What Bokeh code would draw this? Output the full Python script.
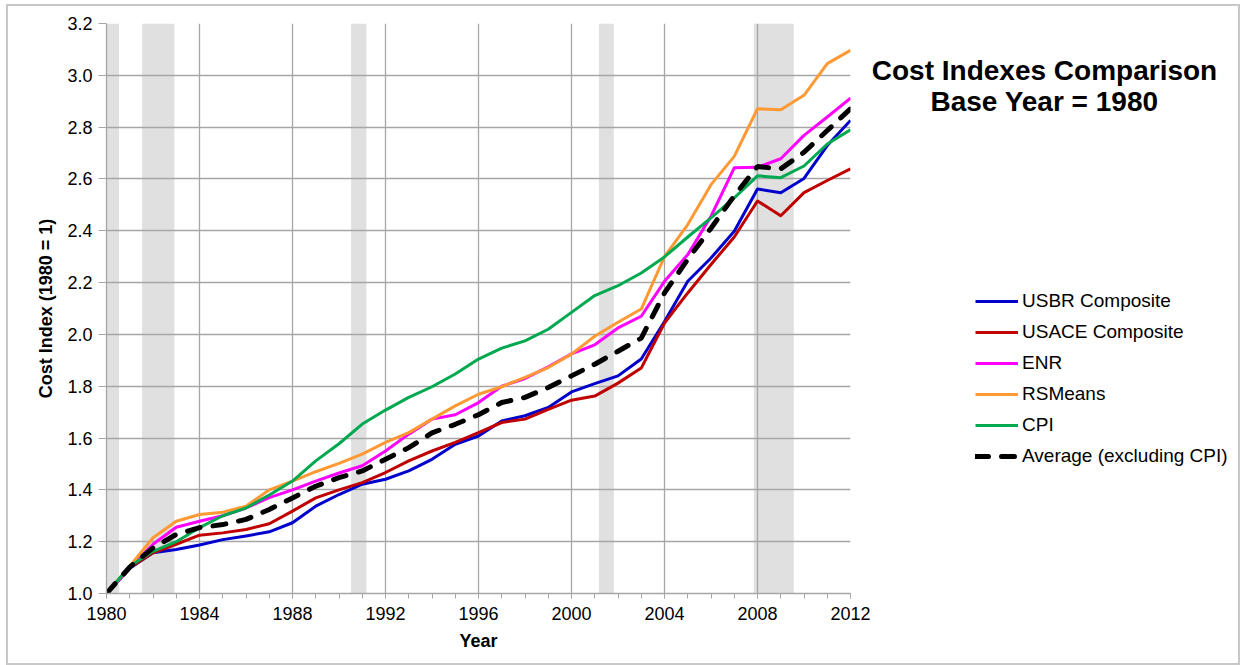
from bokeh.plotting import figure
from bokeh.layouts import row
from bokeh.models import (Legend, LegendItem, SingleIntervalTicker, NumeralTickFormatter,
                          Range1d, BoxAnnotation)
from bokeh.core.properties import value
from bokeh.embed import file_html
from bokeh.resources import INLINE

years = list(range(1980, 2013))

usbr = [1.000, 1.097, 1.157, 1.170, 1.187, 1.208, 1.222, 1.238, 1.273, 1.337,
        1.382, 1.422, 1.441, 1.473, 1.518, 1.576, 1.608, 1.666, 1.686, 1.718,
        1.778, 1.810, 1.840, 1.905, 2.050, 2.205, 2.295, 2.398, 2.561, 2.547,
        2.602, 2.729, 2.826]
usace = [1.000, 1.099, 1.157, 1.190, 1.225, 1.234, 1.247, 1.269, 1.318, 1.369,
         1.400, 1.428, 1.467, 1.512, 1.550, 1.583, 1.621, 1.660, 1.673, 1.711,
         1.746, 1.762, 1.812, 1.870, 2.044, 2.160, 2.270, 2.376, 2.515, 2.458,
         2.547, 2.594, 2.639]
enr = [1.000, 1.100, 1.190, 1.256, 1.279, 1.300, 1.330, 1.370, 1.400, 1.434,
       1.465, 1.493, 1.550, 1.615, 1.673, 1.690, 1.737, 1.800, 1.830, 1.875,
       1.925, 1.960, 2.025, 2.070, 2.205, 2.308, 2.456, 2.643, 2.645, 2.678,
       2.768, 2.839, 2.912]
rsmeans = [1.000, 1.105, 1.215, 1.279, 1.305, 1.314, 1.337, 1.400, 1.434, 1.470,
           1.502, 1.538, 1.583, 1.621, 1.673, 1.724, 1.769, 1.798, 1.834, 1.872,
           1.924, 1.993, 2.047, 2.098, 2.300, 2.424, 2.578, 2.687, 2.871, 2.867,
           2.923, 3.045, 3.097]
cpi = [1.000, 1.105, 1.163, 1.200, 1.254, 1.300, 1.330, 1.380, 1.434, 1.512,
       1.578, 1.654, 1.708, 1.757, 1.798, 1.847, 1.905, 1.947, 1.975, 2.020,
       2.085, 2.150, 2.188, 2.237, 2.299, 2.376, 2.450, 2.527, 2.612, 2.605,
       2.650, 2.735, 2.790]
average = [1.000, 1.102, 1.176, 1.228, 1.254, 1.266, 1.286, 1.324, 1.369, 1.414,
           1.447, 1.473, 1.518, 1.563, 1.620, 1.653, 1.690, 1.737, 1.757, 1.795,
           1.840, 1.885, 1.935, 1.986, 2.160, 2.290, 2.410, 2.535, 2.648, 2.639,
           2.703, 2.787, 2.871]

recession_start = [1980.0, 1981.53, 1990.52, 2001.18, 2007.84]
recession_end = [1980.54, 1982.92, 1991.18, 2001.82, 2009.56]

series_names = ["USBR Composite", "USACE Composite", "ENR", "RSMeans", "CPI",
                "Average (excluding CPI)"]
series_values = [usbr, usace, enr, rsmeans, cpi, average]
series_colors = ["#0000cc", "#c00000", "#ff00ff", "#ff9933", "#00a850", "#000000"]

title_lines = ["Cost Indexes Comparison", "Base Year = 1980"]

FONT = "Liberation Sans"
GRID = "#a6a6a6"
H = 657
FH = 570
TOP = 17

p = figure(frame_width=744, frame_height=FH,
           x_range=Range1d(1980, 2012), y_range=Range1d(1.0, 3.2),
           output_backend="svg", toolbar_location=None,
           min_border_left=98, min_border_right=20,
           min_border_top=TOP, min_border_bottom=H - TOP - FH)
p.outline_line_color = None
p.background_fill_color = "white"
p.border_fill_color = "white"

xt = SingleIntervalTicker(interval=4, num_minor_ticks=4)
yt = SingleIntervalTicker(interval=0.2, num_minor_ticks=0)
p.xaxis.ticker = xt
p.xgrid.ticker = xt
p.yaxis.ticker = yt
p.ygrid.ticker = yt
p.yaxis.formatter = NumeralTickFormatter(format="0.0")

for g in (p.xgrid, p.ygrid):
    g.grid_line_color = GRID
    g.grid_line_width = 1.3

for ax in (p.xaxis, p.yaxis):
    ax.axis_line_color = GRID
    ax.axis_line_width = 1.3
    ax.major_tick_line_color = GRID
    ax.minor_tick_line_color = GRID
    ax.major_tick_in = 0
    ax.minor_tick_in = 0
    ax.major_label_text_font = FONT
    ax.major_label_text_font_size = "18px"
    ax.major_label_text_color = "#000000"
    ax.axis_label_text_font = FONT
    ax.axis_label_text_font_size = "18px"
    ax.axis_label_text_font_style = "bold"
    ax.axis_label_text_color = "#000000"

p.xaxis.major_tick_out = 5
p.xaxis.minor_tick_out = 5
p.xaxis.major_label_standoff = 8
p.xaxis.axis_label = "Year"
p.xaxis.axis_label_standoff = 8

p.yaxis.major_tick_out = 8
p.yaxis.minor_tick_line_color = None
p.yaxis.major_label_standoff = 6
p.yaxis.axis_label = "Cost Index (1980 = 1)"
p.yaxis.axis_label_standoff = 8

for s, e in zip(recession_start, recession_end):
    p.add_layout(BoxAnnotation(left=s, right=e, fill_color="#e0e0e0", fill_alpha=1.0,
                               line_alpha=0, level="image"))

def style_for(name, col):
    if name.startswith("Average"):
        return dict(line_color=col, line_width=5, line_dash="13 13", line_cap="round")
    return dict(line_color=col, line_width=3, line_join="round")

for name, vals, col in zip(series_names, series_values, series_colors):
    p.line(years, vals, **style_for(name, col))

# side panel: title and legend (pixel-like units, y measured down from frame top)
W2 = 368
p2 = figure(width=W2, frame_height=FH, x_range=Range1d(0, W2), y_range=Range1d(FH, 0),
            output_backend="svg", toolbar_location=None,
            x_axis_type=None, y_axis_type=None,
            min_border_left=0, min_border_right=0,
            min_border_top=TOP, min_border_bottom=H - TOP - FH)
p2.grid.visible = False
p2.outline_line_color = None
p2.background_fill_color = "white"
p2.border_fill_color = "white"

p2.text(x=[174, 174], y=[47, 78], text=title_lines, text_align="center",
        text_baseline="middle", text_font=value(FONT), text_font_size="28px",
        text_font_style="bold", text_color="#000000")

nan = float("nan")
items = []
for name, col in zip(series_names, series_colors):
    r = p2.line(x=[nan, nan], y=[nan, nan], **style_for(name, col))
    items.append(LegendItem(label=name, renderers=[r]))

legend = Legend(items=items, location=(105, 126), padding=0, margin=0, spacing=9,
                glyph_width=43, glyph_height=20, label_height=20, label_standoff=4,
                label_text_font=FONT, label_text_font_size="19px",
                label_text_color="#000000", border_line_color=None,
                background_fill_alpha=0)
p2.add_layout(legend)

layout = row(p, p2, styles={"border": "2px solid #c8c8c8", "margin-left": "6px",
                            "margin-top": "4px"})

open("out.html", "w").write(file_html(layout, INLINE))
